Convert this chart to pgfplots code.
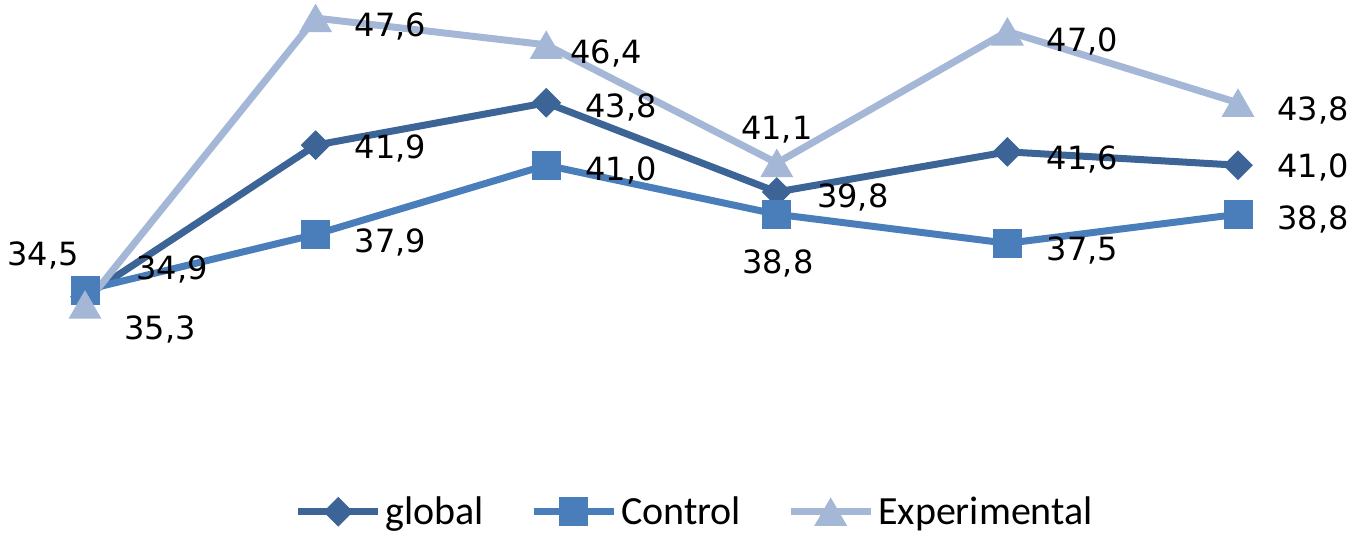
\documentclass[border=0pt]{standalone}
\usepackage{pgfplots}
\usepackage{pgfplotstable}
\usepackage{fontspec}
\pgfplotsset{compat=1.18}
\newfontfamily\labelfont{DejaVu Sans}
\newfontfamily\legfont{Carlito}
\definecolor{cglobal}{HTML}{3C6496}
\definecolor{ccontrol}{HTML}{4A7EBB}
\definecolor{cexp}{HTML}{A5B7D6}

\pgfplotstableread{
x y label dx dy
0 35.1 {34,9} 43.5 13.5
1 41.9 {41,9} 37.5 -1.5
2 43.8 {43,8} 37.5 -2.5
3 39.8 {39,8} 38 -3
4 41.6 {41,6} 37.5 -4
5 41.0 {41,0} 37.5 -1
}\globaldata
\pgfplotstableread{
x y label dx dy
0 35.4 {34,5} -21 17.5
1 37.9 {37,9} 37.5 -4
2 41.0 {41,0} 37.5 -2.5
3 38.8 {38,8} 0.5 -24.5
4 37.5 {37,5} 37.5 -3.5
5 38.8 {38,8} 37.5 -2.5
}\controldata
\pgfplotstableread{
x y label dx dy
0 34.75 {35,3} 37.5 -10
1 47.6 {47,6} 37.5 -2
2 46.4 {46,4} 30 -2
3 41.1 {41,1} 0 19
4 47.0 {47,0} 37.5 -2.5
5 43.8 {43,8} 37.5 -1.5
}\expdata

\begin{document}
\begin{tikzpicture}
\begin{axis}[
  scale only axis, width=678.5pt, height=266pt,
  hide axis, clip=false,
  xmin=-0.3686, xmax=5.516, ymin=24.55, ymax=48.41,
  legend columns=3,
  legend style={at={(axis description cs:0.512,0.038)}, anchor=center,
    draw=none, fill=none, font=\legfont\fontsize{20}{24}\selectfont,
    /tikz/every even column/.append style={column sep=22pt},
    /tikz/every odd column/.append style={column sep=1pt},
    nodes={inner sep=1pt}},
  legend image code/.code={\draw[mark repeat=2,mark phase=2,#1] plot coordinates {(0pt,0pt) (20pt,0pt) (40pt,0pt)};},
  nodes near coords,
  point meta=explicit symbolic,
  every node near coord/.append style={anchor=center, inner sep=0pt, text=black,
    font=\labelfont\fontsize{16}{18}\selectfont, xshift=\dx pt, yshift=\dy pt},
  visualization depends on={\thisrow{dx} \as \dx},
  visualization depends on={\thisrow{dy} \as \dy},
]
\addplot[cglobal, line width=3.5pt, mark=square*, mark size=5pt,
  mark options={rotate=45, line width=0.5pt, fill=cglobal}]
  table[x=x, y=y, meta=label] {\globaldata};
\addlegendentry{global}
\addplot[ccontrol, line width=3.5pt, mark=square*, mark size=7pt,
  mark options={line width=0.5pt, fill=ccontrol}]
  table[x=x, y=y, meta=label] {\controldata};
\addlegendentry{Control}
\addplot[cexp, line width=3.5pt, mark=triangle*, mark size=9pt,
  mark options={line width=0.5pt, fill=cexp, yshift=-2.3pt}]
  table[x=x, y=y, meta=label] {\expdata};
\addlegendentry{Experimental}
\end{axis}
\pgfresetboundingbox
\useasboundingbox (current axis.south west) rectangle (current axis.north east);
\end{tikzpicture}
\end{document}
